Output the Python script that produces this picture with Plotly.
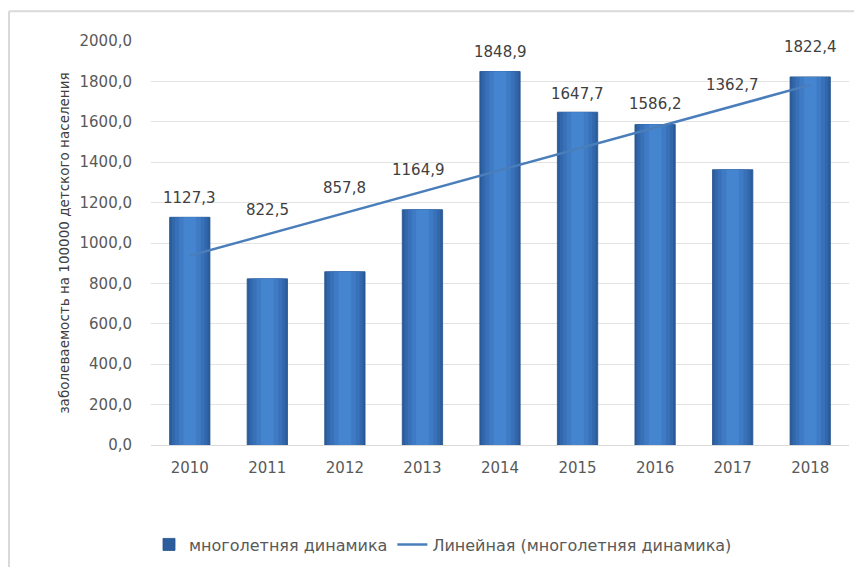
import numpy as np
import plotly.graph_objects as go

# Data
years = ["2010", "2011", "2012", "2013", "2014", "2015", "2016", "2017", "2018"]
incidence = [1127.3, 822.5, 857.8, 1164.9, 1848.9, 1647.7, 1586.2, 1362.7, 1822.4]
value_labels = ["1127,3", "822,5", "857,8", "1164,9", "1848,9", "1647,7", "1586,2", "1362,7", "1822,4"]
y_ticks = [0, 200, 400, 600, 800, 1000, 1200, 1400, 1600, 1800, 2000]
y_tick_text = ["0,0", "200,0", "400,0", "600,0", "800,0", "1000,0", "1200,0",
               "1400,0", "1600,0", "1800,0", "2000,0"]

# Vertical placement of the value labels (axis units), lifted clear of the trend line
label_y = [1222, 1163, 1271, 1360, 1946, 1739, 1690, 1783, 1970]
label_dx = [0, 0, 0, -0.05, 0, 0, 0, 0, 0]

FONT = "'DejaVu Sans', sans-serif"
TEXT = "#595959"

# Linear trend over the series
xi = np.arange(len(incidence))
slope, intercept = np.polyfit(xi, incidence, 1)
trend = slope * xi + intercept

fig = go.Figure()

# Cylinder-like shading: overlaid bars narrowing towards a lighter centre
shades = [
    (0.52, "#2b5d9c"),
    (0.46, "#3267ab"),
    (0.38, "#3971b9"),
    (0.28, "#3f7bc5"),
    (0.16, "#4585cf"),
]
for i, (width, color) in enumerate(shades):
    fig.add_trace(go.Bar(
        x=years, y=incidence, width=width,
        marker=dict(color=color, line=dict(width=0.8 if i == 0 else 0, color="#23508a")),
        name="многолетняя динамика", showlegend=(i == 0),
        hoverinfo="skip" if i else None,
    ))

fig.add_trace(go.Scatter(
    x=years, y=trend, mode="lines",
    line=dict(color="#4a7ebb", width=2.5),
    name="Линейная (многолетняя динамика)",
))

for yr, lab, ly, dx in zip(years, value_labels, label_y, label_dx):
    fig.add_annotation(
        x=years.index(yr) + dx, y=ly, text=lab, showarrow=False,
        font=dict(family=FONT, size=15, color="#404040"),
        xanchor="center", yanchor="middle",
    )

L, R, T, B = 151, 5, 41, 120
W, H = 854, 567
pw, ph = W - L - R, H - T - B
# Chart frame (left and top edges visible)
fig.add_shape(type="line", xref="paper", yref="paper",
              x0=(9 - L) / pw, x1=(9 - L) / pw, y0=-(H - T) / ph, y1=(H - 11 - B) / ph,
              line=dict(color="#d9d9d9", width=2))
fig.add_shape(type="line", xref="paper", yref="paper",
              x0=(9 - L) / pw, x1=(W - L) / pw, y0=(H - 11 - B) / ph, y1=(H - 11 - B) / ph,
              line=dict(color="#d9d9d9", width=2))

fig.update_layout(
    width=W, height=H,
    margin=dict(l=L, r=R, t=T, b=B),
    barmode="overlay",
    plot_bgcolor="white", paper_bgcolor="white",
    font=dict(family=FONT, size=15, color=TEXT),
    legend=dict(orientation="h", x=(443 - L) / pw, xanchor="center",
                y=-(547 - (H - B)) / ph, yanchor="middle",
                font=dict(family=FONT, size=16, color=TEXT),
                itemwidth=30, tracegroupgap=0),
    showlegend=True,
)
fig.update_xaxes(
    type="category", range=[-0.5, 8.5], showgrid=False,
    showline=True, linecolor="#d9d9d9", linewidth=1,
    ticks="", ticklabelstandoff=9,
    tickfont=dict(family=FONT, size=15, color=TEXT),
)
fig.update_yaxes(
    range=[0, 2000], tickvals=y_ticks, ticktext=y_tick_text,
    showgrid=True, gridcolor="#e3e3e3", gridwidth=1, zeroline=False,
    ticks="", ticklabelstandoff=18,
    tickfont=dict(family=FONT, size=15, color=TEXT),
    title=dict(text="заболеваемость на 100000 детского населения",
               font=dict(family=FONT, size=13.5, color="#404040"), standoff=6),
)

fig.write_html("out.html")
